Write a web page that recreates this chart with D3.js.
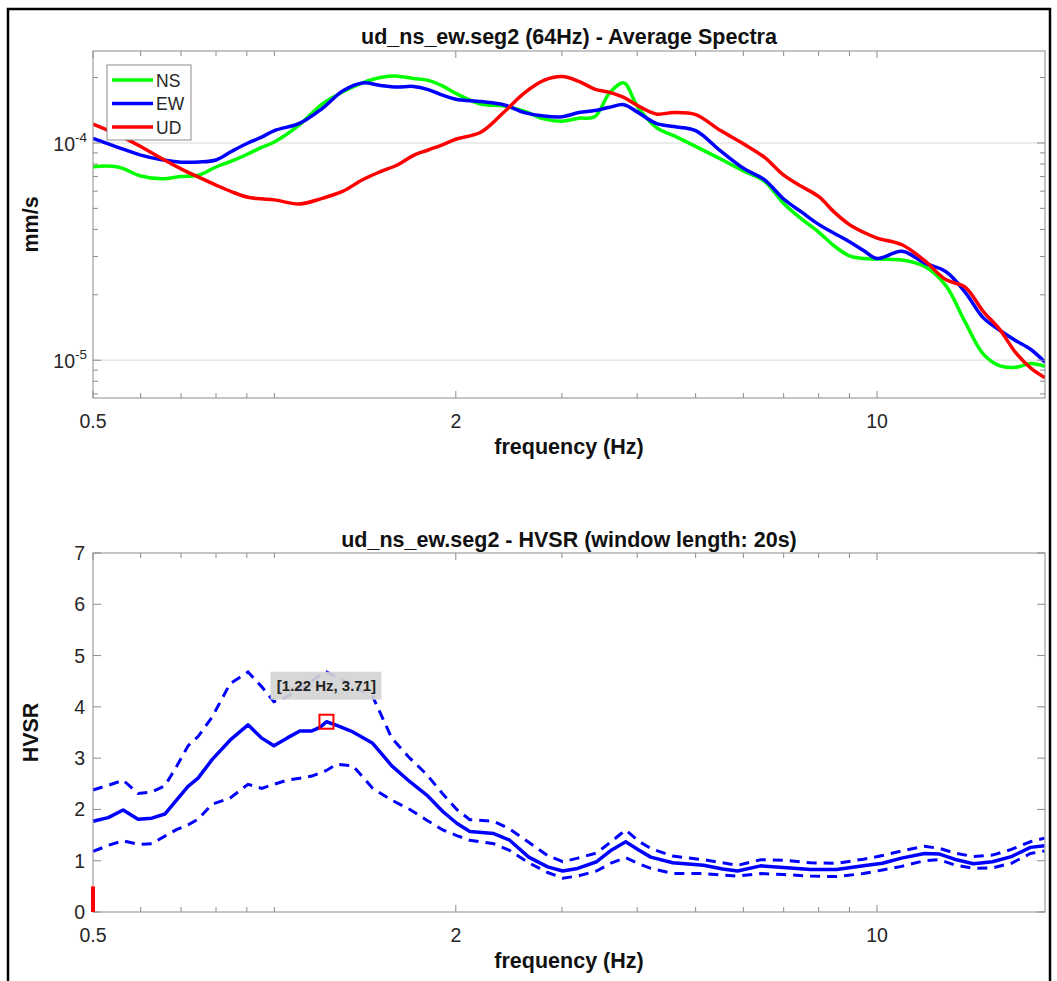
<!DOCTYPE html>
<html><head><meta charset="utf-8">
<script src="https://cdn.jsdelivr.net/npm/d3@7/dist/d3.min.js"></script>
<style>
html,body{margin:0;padding:0;background:#fff;}
svg{display:block;font-family:"Liberation Sans",Arial,Helvetica,sans-serif;}
</style></head>
<body>
<svg id="chart" width="1057" height="981"></svg>
<script>
// ---------------- DATA ----------------
const specFreq = [0.5,0.55,0.6,0.65,0.7,0.75,0.8,0.85,0.9,0.95,1.0,1.1,1.2,1.3,1.4,1.5,1.6,1.7,1.8,1.9,2.0,2.2,2.4,2.6,2.8,3.0,3.2,3.4,3.6,3.8,4.0,4.3,4.6,5.0,5.5,6,6.5,7,7.5,8,8.5,9,9.5,10,11,12,13,14,15,16,17,18,19];
const specNS = [7.78e-5,7.75e-5,7.05e-5,6.84e-5,7.00e-5,7.12e-5,7.75e-5,8.26e-5,8.85e-5,9.51e-5,
  1.01e-4,1.21e-4,1.51e-4,1.72e-4,1.89e-4,2.00e-4,2.03e-4,1.98e-4,1.94e-4,1.83e-4,
  1.69e-4,1.51e-4,1.48e-4,1.40e-4,1.29e-4,1.26e-4,1.30e-4,1.32e-4,1.70e-4,1.89e-4,
  1.48e-4,1.18e-4,1.08e-4,
  9.64e-5,8.44e-5,7.43e-5,6.68e-5,5.26e-5,4.46e-5,3.89e-5,3.35e-5,3.02e-5,2.94e-5,
  2.92e-5,
  2.89e-5,2.70e-5,2.21e-5,1.50e-5,1.07e-5,9.41e-6,9.28e-6,9.66e-6,9.38e-6];
const specEW = [1.05e-4,9.55e-5,8.79e-5,8.37e-5,8.16e-5,8.17e-5,8.35e-5,9.16e-5,9.94e-5,1.06e-4,
  1.14e-4,1.23e-4,1.44e-4,1.74e-4,1.89e-4,1.84e-4,1.81e-4,1.82e-4,1.76e-4,1.66e-4,
  1.59e-4,1.55e-4,1.50e-4,1.38e-4,1.33e-4,1.32e-4,1.38e-4,1.41e-4,1.46e-4,1.50e-4,
  1.39e-4,1.23e-4,1.19e-4,
  1.14e-4,9.19e-5,7.65e-5,6.78e-5,5.52e-5,4.80e-5,4.22e-5,3.83e-5,3.51e-5,3.20e-5,
  2.94e-5,
  3.17e-5,2.80e-5,2.56e-5,2.06e-5,1.57e-5,1.37e-5,1.23e-5,1.12e-5,9.79e-6];
const specUD = [1.22e-4,1.09e-4,9.63e-5,8.48e-5,7.60e-5,6.94e-5,6.40e-5,5.96e-5,5.64e-5,5.53e-5,
  5.47e-5,5.24e-5,5.56e-5,6.00e-5,6.77e-5,7.38e-5,7.92e-5,8.75e-5,9.28e-5,9.81e-5,
  1.04e-4,1.12e-4,1.38e-4,1.70e-4,1.94e-4,2.02e-4,1.92e-4,1.77e-4,1.71e-4,1.62e-4,
  1.49e-4,1.36e-4,1.38e-4,
  1.35e-4,1.14e-4,9.92e-5,8.60e-5,7.11e-5,6.30e-5,5.67e-5,4.79e-5,4.21e-5,3.88e-5,
  3.65e-5,
  3.40e-5,2.87e-5,2.35e-5,2.17e-5,1.68e-5,1.38e-5,1.08e-5,9.20e-6,8.31e-6];
const specNames = ["NS","EW","UD"];
const specColors = ["#00ff00","#0000ff","#ff0000"];

const hvFreq = [0.5,0.530,0.561,0.594,0.626,0.658,0.689,0.719,0.747,0.788,0.844,0.904,0.953,0.998,1.049,1.102,1.154,1.190,1.22,1.269,1.350,1.456,1.566,1.678,1.790,1.903,2.007,2.110,2.312,2.457,2.643,2.841,3.009,3.186,3.426,3.628,3.828,4.023,4.212,4.580,5.156,5.543,5.870,6.410,6.998,7.755,8.565,9.495,10.21,10.98,11.99,12.70,13.44,14.45,15.54,16.71,17.97,18.96];
const hvMean = [1.77,1.84,1.99,1.81,1.83,1.91,2.19,2.45,2.61,2.97,3.35,3.65,3.39,3.24,3.39,3.53,3.53,3.60,3.71,3.64,3.51,3.29,2.85,2.54,2.28,1.96,1.73,1.57,1.53,1.40,1.07,0.88,0.80,0.85,0.98,1.21,1.37,1.21,1.07,0.96,0.91,0.84,0.80,0.90,0.87,0.83,0.83,0.90,0.95,1.05,1.14,1.13,1.03,0.94,0.98,1.08,1.26,1.29];
const hvUpper = [2.38,2.47,2.57,2.31,2.34,2.46,2.85,3.24,3.42,3.80,4.45,4.68,4.39,4.10,4.20,4.35,4.50,4.62,4.68,4.58,4.40,4.20,3.39,3.00,2.68,2.30,2.00,1.80,1.77,1.62,1.36,1.10,0.98,1.05,1.15,1.38,1.60,1.38,1.24,1.09,1.02,0.96,0.91,1.02,1.01,0.96,0.95,1.03,1.10,1.19,1.28,1.24,1.15,1.08,1.11,1.22,1.37,1.44];
const hvLower = [1.18,1.30,1.39,1.32,1.33,1.48,1.61,1.70,1.81,2.10,2.22,2.49,2.41,2.49,2.57,2.61,2.65,2.71,2.76,2.88,2.85,2.41,2.18,2.00,1.79,1.60,1.49,1.40,1.33,1.20,0.96,0.77,0.66,0.70,0.80,0.96,1.06,0.94,0.85,0.75,0.75,0.72,0.70,0.75,0.73,0.70,0.69,0.75,0.82,0.89,1.00,1.02,0.92,0.85,0.86,0.95,1.14,1.19];
const peakFreq = 1.22, peakHVSR = 3.71;
const peakLabel = "[1.22 Hz, 3.71]";
const limitFreq = 0.5, limitHeight = 0.5;

const xDomain = [0.5, 19];
const xTickVals = [0.5,0.6,0.7,0.8,0.9,1,2,3,4,5,6,7,8,9,10];
const xTickLabels = {"0.5":"0.5","2":"2","10":"10"};
const specYDomain = [6.7e-6, 2.65e-4];
const specYMajor = [1e-5, 1e-4];
const specYMajorLabels = ["-5","-4"];
const specYMinor = [7e-6,8e-6,9e-6,2e-5,3e-5,4e-5,5e-5,6e-5,7e-5,8e-5,9e-5,2e-4];
const hvYDomain = [0, 7];
const hvYTicks = [0,1,2,3,4,5,6,7];

const title1 = "ud_ns_ew.seg2 (64Hz) - Average Spectra";
const title2 = "ud_ns_ew.seg2 - HVSR (window length: 20s)";
const xLabel = "frequency (Hz)";
const yLabel1 = "mm/s";
const yLabel2 = "HVSR";

// ---------------- DRAW ----------------
const svg = d3.select("#chart");
const L = 93, R = 1045;
const axisColor = "#8c8c8c", textColor = "#262626";
const tickFont = 19.5, labelFont = 21.5;

svg.append("rect").attr("x",8).attr("y",9).attr("width",1042).attr("height",990)
  .attr("fill","none").attr("stroke","#000").attr("stroke-width",2.5);

const x = d3.scaleLog().domain(xDomain).range([L, R]);

function xAxes(g, top, bottom) {
  xTickVals.forEach(v => {
    const px = x(v);
    const len = xTickLabels[String(v)] ? 7 : 5;
    g.append("line").attr("x1",px).attr("x2",px).attr("y1",bottom).attr("y2",bottom-len).attr("stroke",axisColor);
    g.append("line").attr("x1",px).attr("x2",px).attr("y1",top).attr("y2",top+len).attr("stroke",axisColor);
    if (xTickLabels[String(v)]) {
      g.append("text").attr("x",px).attr("y",bottom+30).attr("text-anchor","middle")
        .attr("font-size",tickFont).attr("fill",textColor).text(xTickLabels[String(v)]);
    }
  });
  g.append("text").attr("x",(L+R)/2).attr("y",bottom+56).attr("text-anchor","middle")
    .attr("font-size",labelFont).attr("font-weight","bold").attr("fill","#111").text(xLabel);
}

// ---- top panel ----
const T1 = 51, B1 = 398;
const y1 = d3.scaleLog().domain(specYDomain).range([B1, T1]);
const g1 = svg.append("g");
// faint grid
specYMajor.forEach(v => {
  g1.append("line").attr("x1",L).attr("x2",R).attr("y1",y1(v)).attr("y2",y1(v))
    .attr("stroke","#e6e6e6").attr("stroke-width",1.5);
});
const clip1 = svg.append("clipPath").attr("id","c1").append("rect")
  .attr("x",L).attr("y",T1).attr("width",R-L).attr("height",B1-T1);
const specLine = d3.line().x(d=>x(d[0])).y(d=>y1(d[1])).curve(d3.curveCatmullRom.alpha(0.5));
[specNS, specEW, specUD].forEach((arr,i) => {
  g1.append("path").attr("clip-path","url(#c1)")
    .attr("d", specLine(specFreq.map((f,j)=>[f,arr[j]])))
    .attr("fill","none").attr("stroke",specColors[i]).attr("stroke-width",3.5)
    .attr("stroke-linejoin","round");
});
g1.append("rect").attr("x",L).attr("y",T1).attr("width",R-L).attr("height",B1-T1)
  .attr("fill","none").attr("stroke",axisColor);
xAxes(g1, T1, B1);
specYMinor.forEach(v => {
  g1.append("line").attr("x1",L).attr("x2",L+5).attr("y1",y1(v)).attr("y2",y1(v)).attr("stroke",axisColor);
  g1.append("line").attr("x1",R).attr("x2",R-5).attr("y1",y1(v)).attr("y2",y1(v)).attr("stroke",axisColor);
});
specYMajor.forEach((v,i) => {
  g1.append("line").attr("x1",L).attr("x2",L+8).attr("y1",y1(v)).attr("y2",y1(v)).attr("stroke",axisColor);
  g1.append("line").attr("x1",R).attr("x2",R-8).attr("y1",y1(v)).attr("y2",y1(v)).attr("stroke",axisColor);
  const t = g1.append("text").attr("x",L-6).attr("y",y1(v)+8).attr("text-anchor","end")
    .attr("font-size",tickFont).attr("fill",textColor);
  t.append("tspan").text("10");
  t.append("tspan").attr("dy",-9).attr("font-size",13.5).text(specYMajorLabels[i]);
});
g1.append("text").attr("x",(L+R)/2).attr("y",44).attr("text-anchor","middle")
  .attr("font-size",labelFont).attr("font-weight","bold").attr("fill","#111").text(title1);
g1.append("text").attr("transform",`translate(38,${(T1+B1)/2}) rotate(-90)`).attr("text-anchor","middle")
  .attr("font-size",labelFont).attr("font-weight","bold").attr("fill","#111").text(yLabel1);
// legend
const lg = g1.append("g");
lg.append("rect").attr("x",107).attr("y",65).attr("width",84).attr("height",75)
  .attr("fill","#fff").attr("stroke","#8c8c8c");
specNames.forEach((n,i) => {
  const yy = 80 + i*23.5;
  lg.append("line").attr("x1",112).attr("x2",153).attr("y1",yy).attr("y2",yy)
    .attr("stroke",specColors[i]).attr("stroke-width",3.5);
  lg.append("text").attr("x",156).attr("y",yy+6.5).attr("font-size",17.5).attr("fill",textColor).text(n);
});

// ---- bottom panel ----
const T2 = 553, B2 = 912;
const y2 = d3.scaleLinear().domain(hvYDomain).range([B2, T2]);
const g2 = svg.append("g");
const hvLine = d3.line().x(d=>x(d[0])).y(d=>y2(d[1]));
g2.append("path").attr("d", hvLine(hvFreq.map((f,j)=>[f,hvUpper[j]])))
  .attr("fill","none").attr("stroke","#0000ff").attr("stroke-width",3).attr("stroke-dasharray","10,7");
g2.append("path").attr("d", hvLine(hvFreq.map((f,j)=>[f,hvLower[j]])))
  .attr("fill","none").attr("stroke","#0000ff").attr("stroke-width",3).attr("stroke-dasharray","10,7");
g2.append("path").attr("d", hvLine(hvFreq.map((f,j)=>[f,hvMean[j]])))
  .attr("fill","none").attr("stroke","#0000ff").attr("stroke-width",3.5).attr("stroke-linejoin","round");
g2.append("rect").attr("x",L).attr("y",T2).attr("width",R-L).attr("height",B2-T2)
  .attr("fill","none").attr("stroke",axisColor);
xAxes(g2, T2, B2);
hvYTicks.forEach(v => {
  g2.append("line").attr("x1",L).attr("x2",L+8).attr("y1",y2(v)).attr("y2",y2(v)).attr("stroke",axisColor);
  g2.append("line").attr("x1",R).attr("x2",R-8).attr("y1",y2(v)).attr("y2",y2(v)).attr("stroke",axisColor);
  g2.append("text").attr("x",L-8).attr("y",y2(v)+7).attr("text-anchor","end")
    .attr("font-size",tickFont).attr("fill",textColor).text(v);
});
// limit marker
g2.append("line").attr("x1",x(limitFreq)).attr("x2",x(limitFreq)).attr("y1",y2(0)).attr("y2",y2(limitHeight))
  .attr("stroke","#ff0000").attr("stroke-width",4);
// peak marker + data tip
const px = x(peakFreq), py = y2(peakHVSR);
g2.append("rect").attr("x",px-7).attr("y",py-7).attr("width",14).attr("height",14)
  .attr("fill","none").attr("stroke","#ff0000").attr("stroke-width",2);
g2.append("rect").attr("x",px-56).attr("y",py-50).attr("width",111).attr("height",28)
  .attr("fill","#d4d4d4").attr("fill-opacity",0.92);
g2.append("text").attr("x",px).attr("y",py-30.5).attr("text-anchor","middle")
  .attr("font-size",15).attr("font-weight","bold").attr("fill","#222").text(peakLabel);
g2.append("text").attr("x",(L+R)/2).attr("y",547).attr("text-anchor","middle")
  .attr("font-size",labelFont).attr("font-weight","bold").attr("fill","#111").text(title2);
g2.append("text").attr("transform",`translate(38,${(T2+B2)/2}) rotate(-90)`).attr("text-anchor","middle")
  .attr("font-size",labelFont).attr("font-weight","bold").attr("fill","#111").text(yLabel2);
</script>
</body></html>
